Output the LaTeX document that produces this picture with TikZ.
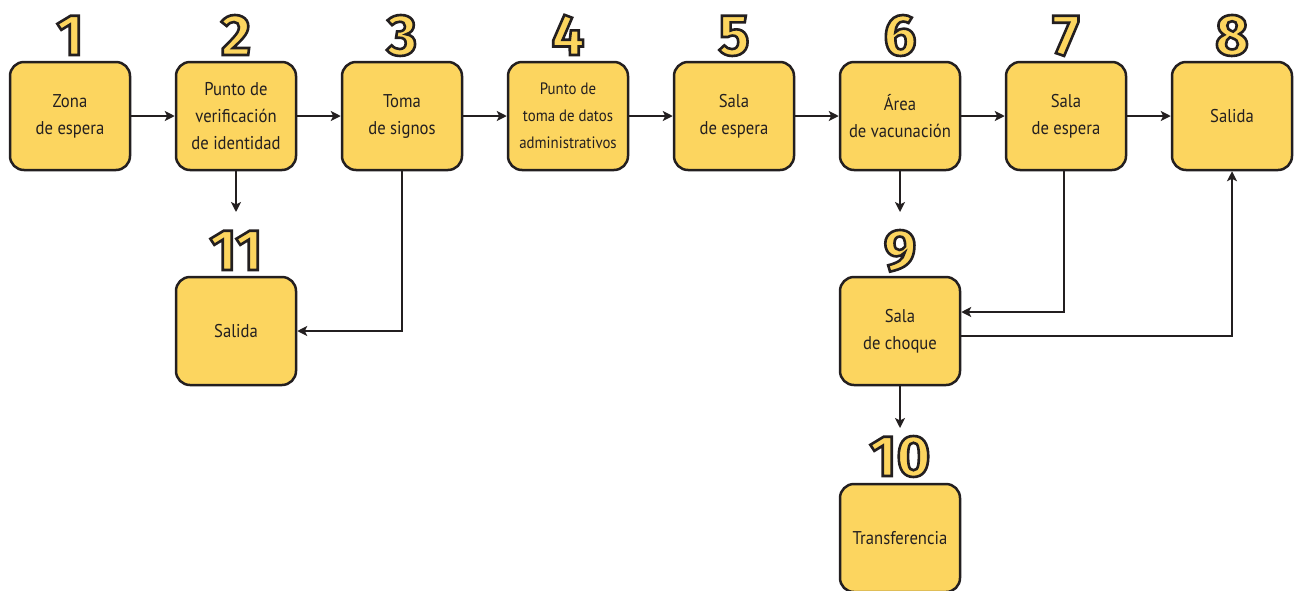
\documentclass[tikz,border=0pt]{standalone}
\usepackage{fontspec}
\setmainfont{PT Sans}[FakeStretch=0.9]
\newfontfamily\numfont{Fira Sans}[UprightFont={* Bold},FakeBold=4.5]
\usetikzlibrary{arrows.meta}
\definecolor{boxfill}{HTML}{FCD55F}
\definecolor{ink}{HTML}{231F20}
\tikzset{
  stage/.style={draw=ink, fill=boxfill, line width=2.5pt, rounded corners=14pt,
    minimum width=120pt, minimum height=108pt, align=center, text=ink,
    font=\fontsize{18.5}{27}\selectfont, inner sep=0pt},
  smalltext/.style={font=\fontsize{16.5}{27}\selectfont},
  stagenum/.style={font=\numfont\fontsize{58}{58}\selectfont, inner sep=0pt, anchor=base},
  link/.style={draw=ink, line width=2pt, -{Stealth[length=10pt,width=10pt,inset=2.5pt]}},
}
\newcommand{\stagedigits}[1]{\color{boxfill}\special{pdf:code 0.137 0.122 0.125 RG}#1}
\begin{document}
\begin{tikzpicture}[x=1pt,y=-1pt]
\useasboundingbox (0,0) rectangle (1294,590);
% boxes
\node[stage] (a1) at (70,116) {Zona\\de espera};
\node[stage] (a2) at (236,116) {Punto de\\verificación\\de identidad};
\node[stage] (a3) at (402,116) {Toma\\de signos};
\node[stage,smalltext] (a4) at (568,116) {Punto de\\toma de datos\\administrativos};
\node[stage] (a5) at (734,116) {Sala\\de espera};
\node[stage] (a6) at (900,116) {Área\\de vacunación};
\node[stage] (a7) at (1066,116) {Sala\\de espera};
\node[stage] (a8) at (1232,116) {Salida};
\node[stage] (a11) at (236,331) {Salida};
\node[stage] (a9) at (900,331) {Sala\\de choque};
\node[stage] (a10) at (900,538) {Transferencia};
% numbers
\node[stagenum] (n1) at (70,55) {\stagedigits{1}};
\node[stagenum] (n2) at (236,55) {\stagedigits{2}};
\node[stagenum] (n3) at (402,55) {\stagedigits{3}};
\node[stagenum] (n4) at (568,55) {\stagedigits{4}};
\node[stagenum] (n5) at (734,55) {\stagedigits{5}};
\node[stagenum] (n6) at (900,55) {\stagedigits{6}};
\node[stagenum] (n7) at (1066,55) {\stagedigits{7}};
\node[stagenum] (n8) at (1232,55) {\stagedigits{8}};
\node[stagenum] (n11) at (236,270) {\stagedigits{11}};
\node[stagenum] (n9) at (900,270) {\stagedigits{9}};
\node[stagenum] (n10) at (900,476) {\stagedigits{10}};
% connectors
\coordinate (d2) at (236,212);
\coordinate (d6) at (900,212);
\coordinate (d9) at (900,428);
\draw[link] (a1) -- (a2);
\draw[link] (a2) -- (a3);
\draw[link] (a3) -- (a4);
\draw[link] (a4) -- (a5);
\draw[link] (a5) -- (a6);
\draw[link] (a6) -- (a7);
\draw[link] (a7) -- (a8);
\draw[link] (a2.south) -- (d2);
\draw[link] (a6.south) -- (d6);
\draw[link] (a9.south) -- (d9);
\draw[link] (a3.south) |- (a11.east);
\draw[link] ([xshift=-2pt]a7.south) |- ([yshift=19pt]a9.east);
\draw[link] ([yshift=-5pt]a9.east) -| (a8.south);
\end{tikzpicture}
\end{document}
